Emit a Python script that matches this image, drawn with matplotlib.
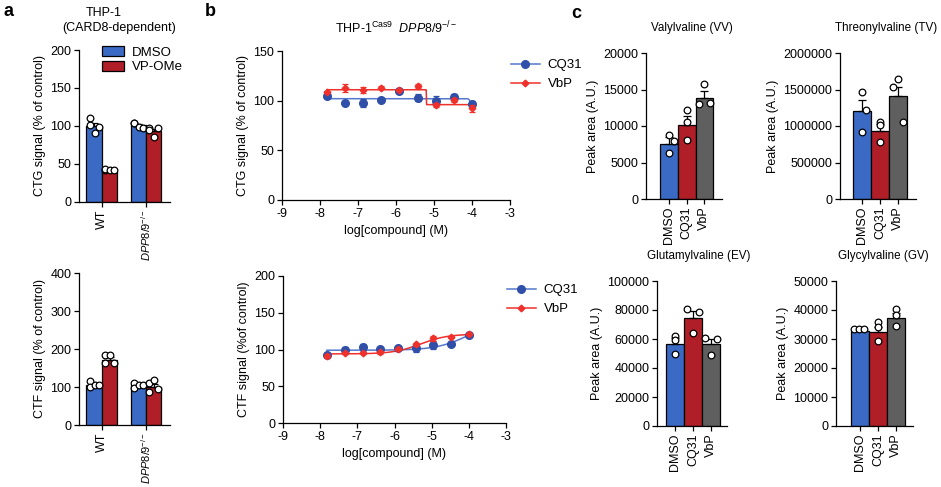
import matplotlib
matplotlib.use('Agg')
import matplotlib.pyplot as plt
import numpy as np
from matplotlib.patches import Patch
from matplotlib.lines import Line2D
from matplotlib.ticker import FuncFormatter, FixedLocator

plt.rcParams['font.family'] = ['Liberation Sans', 'DejaVu Sans']
plt.rcParams['mathtext.fontset'] = 'custom'
plt.rcParams['mathtext.rm'] = 'Liberation Sans'
plt.rcParams['mathtext.it'] = 'Liberation Sans:italic'
plt.rcParams['mathtext.bf'] = 'Liberation Sans:bold'
plt.rcParams['axes.unicode_minus'] = False

# ---------------- data ----------------
a_groups = ['WT', r'$\mathit{DPP8/9}^{-/-}$']
a_treat = ['DMSO', 'VP-OMe']
ctg_means = [[100, 41], [101, 93]]
ctg_sem = [[3.5, 1.0], [1.5, 2.5]]
ctg_points = [[[110, 101, 91, 99], [42, 44, 42, 42]],
              [[104, 104, 99, 97], [97, 95, 86, 97]]]
ctf_means = [[104, 172], [104, 101]]
ctf_sem = [[4, 6], [3, 7]]
ctf_points = [[[117, 101, 105, 105], [184, 164, 184, 164]],
              [[110, 97, 105, 105], [110, 88, 119, 94]]]

log_conc = [-7.82, -7.34, -6.86, -6.39, -5.91, -5.43, -4.96, -4.48, -4.0]
ctg_cq31 = [105, 98, 97.5, 101, 110, 103, 100, 103.5, 97]
ctg_cq31_err = [1.5, 1, 4, 1, 1, 3.5, 4.5, 3, 2.5]
ctg_vbp = [109, 112.5, 110.5, 113, 111, 115, 96, 100.5, 92.5]
ctg_vbp_err = [1, 4, 3, 1.5, 1, 2, 2, 2, 3.5]
ctf_cq31 = [93, 99, 103, 101, 102, 102, 106, 107.5, 120]
ctf_cq31_err = [2, 4, 5, 2, 1.5, 5, 5, 1.5, 1.5]
ctf_vbp = [91, 95, 95, 96, 101, 107, 115, 117, 121]
ctf_vbp_err = [3, 1, 1.5, 2, 1, 2, 3, 1.5, 1.5]
# fit parameters: (start, end, logEC50, hill)
ctg_cq31_fit = (102, 96.5, -4.05, 25)
ctg_vbp_fit = (111, 96, -5.2, 300)
ctf_cq31_fit = (99, 140, -4.0, 1.0)
ctf_vbp_fit = (94, 121, -5.3, 1.2)

c_labels = ['DMSO', 'CQ31', 'VbP']
vv_means = [7600, 10200, 13900]
vv_sem = [850, 1200, 950]
vv_pts = [[8800, 7900, 6300], [12200, 10500, 8100], [15800, 13000, 13100]]
tv_means = [1200000, 935000, 1405000]
tv_sem = [160000, 95000, 130000]
tv_pts = [[1464000, 1222000, 924000], [1052000, 1007000, 778000], [1647000, 1533000, 1048000]]
ev_means = [56500, 74200, 56500]
ev_sem = [3900, 5000, 3700]
ev_pts = [[62200, 59200, 49500], [80400, 78800, 64300], [61000, 59700, 49300]]
gv_means = [32900, 32300, 37100]
gv_sem = [250, 1700, 1700]
gv_pts = [[33300, 33300, 33300], [35900, 34000, 29300], [40200, 38300, 34400]]

# jitter (fraction of bar width) for scatter points
a_jit = [-0.3, -0.3, 0.05, 0.3]
c_jit = [[0.0, 0.25, 0.0], [0.0, 0.0, 0.0], [0.0, -0.3, 0.3]]
ev_jit = [[0.0, 0.0, 0.0], [-0.35, 0.35, 0.0], [-0.35, 0.35, 0.0]]
gv_jit = [[-0.35, -0.05, 0.25], [0.0, 0.0, 0.0], [0.0, 0.0, 0.0]]

# ---------------- style ----------------
BLUE = '#3B6AC4'
RED = '#B01E28'
GREY = '#5F5F5F'
LBLUE = '#2F4FA8'
LINEBLUE = '#5478CC'
LRED = '#F0302B'
FS = 9
TFS = 8.4
LW = 0.9

W, H = 941, 487
fig = plt.figure(figsize=(W / 100, H / 100), dpi=100)


def ax_px(l, r, t, b):
    return fig.add_axes([l / W, 1 - b / H, (r - l) / W, (b - t) / H])


def style(ax):
    for s in ['top', 'right']:
        ax.spines[s].set_visible(False)
    for s in ['left', 'bottom']:
        ax.spines[s].set_linewidth(LW)
    ax.tick_params(width=LW, length=3.5, labelsize=FS, pad=2)


def pts(ax, x, vals, jit, bw):
    for v, j in zip(vals, jit):
        ax.plot(x + j * bw, v, 'o', ms=4.8, mfc='white', mec='black', mew=0.9,
                zorder=5, clip_on=False)


# ---------------- panel a ----------------
def panel_a(ax, means, sems, points, ymax, ystep, ylabel, legend):
    bw = 0.35
    cols = [BLUE, RED]
    for g in range(2):
        for t in range(2):
            x = g + (t - 0.5) * bw
            ax.bar(x, means[g][t], bw, color=cols[t], edgecolor='black', lw=LW, zorder=2)
            ax.errorbar(x, means[g][t], yerr=[[0], [sems[g][t]]], color='black',
                        capsize=3, elinewidth=LW, capthick=LW, zorder=3)
            pts(ax, x, points[g][t], a_jit, bw)
    style(ax)
    ax.set_xlim(-0.52, 1.545)
    ax.set_ylim(0, ymax)
    ax.set_yticks(np.arange(0, ymax + 1, ystep))
    ax.set_xticks([0, 1])
    labs = ax.set_xticklabels(a_groups, rotation=90, fontsize=FS)
    labs[1].set_fontsize(8)
    ax.set_ylabel(ylabel, fontsize=FS, labelpad=3)
    if legend:
        h = [Patch(facecolor=c, edgecolor='black', lw=LW) for c in cols]
        ax.legend(h, a_treat, loc='upper left', bbox_to_anchor=(0.2, 1.06),
                  frameon=False, fontsize=FS + 0.5, handlelength=1.6,
                  handleheight=0.8, handletextpad=0.6, labelspacing=0.15,
                  borderaxespad=0)


axa1 = ax_px(79, 170, 50, 202)
panel_a(axa1, ctg_means, ctg_sem, ctg_points, 200, 50, 'CTG signal (% of control)', True)
axa2 = ax_px(79, 170, 273, 425)
panel_a(axa2, ctf_means, ctf_sem, ctf_points, 400, 100, 'CTF signal (% of control)', False)

fig.text(104 / W, 1 - 13 / H, 'THP-1', ha='center', va='center', fontsize=FS)
fig.text(119 / W, 1 - 28 / H, '(CARD8-dependent)', ha='center', va='center', fontsize=FS)


# ---------------- panel b ----------------
def fitcurve(p, x):
    s, e, ec, h = p
    return s + (e - s) / (1 + 10 ** np.clip((ec - x) * h, -50, 50))


def panel_b(ax, cq, cqe, vb, vbe, cqfit, vbfit, ymax, ystep, ylabel, leg_y):
    xs = np.linspace(log_conc[0], log_conc[-1], 800)
    ax.plot(xs, fitcurve(cqfit, xs), color=LINEBLUE, lw=1.1, zorder=2)
    ax.plot(xs, fitcurve(vbfit, xs), color=LRED, lw=1.1, zorder=2)
    ax.errorbar(log_conc, cq, yerr=cqe, fmt='o', color=LBLUE, ms=5.5, capsize=2.5,
                elinewidth=0.9, capthick=0.9, zorder=3, clip_on=False)
    ax.errorbar(log_conc, vb, yerr=vbe, fmt='D', color=LRED, ms=3.4, capsize=2.5,
                elinewidth=0.9, capthick=0.9, zorder=4, clip_on=False)
    style(ax)
    ax.set_xlim(-9, -3)
    ax.set_ylim(0, ymax)
    ax.set_xticks(np.arange(-9, -2, 1))
    ax.set_yticks(np.arange(0, ymax + 1, ystep))
    ax.set_xlabel('log[compound] (M)', fontsize=FS, labelpad=4)
    ax.set_ylabel(ylabel, fontsize=FS, labelpad=3)
    h = [Line2D([], [], color=LINEBLUE, marker='o', mfc=LBLUE, mec=LBLUE, ms=5.5, lw=1.1),
         Line2D([], [], color=LRED, marker='D', ms=3.4, lw=1.1)]
    ax.legend(h, ['CQ31', 'VbP'], loc='upper left', bbox_to_anchor=(0.98, leg_y),
              frameon=False, fontsize=FS + 0.5, handlelength=2.2,
              handletextpad=0.6, labelspacing=0.5, borderaxespad=0)


axb1 = ax_px(282, 510, 51, 200)
panel_b(axb1, ctg_cq31, ctg_cq31_err, ctg_vbp, ctg_vbp_err, ctg_cq31_fit, ctg_vbp_fit,
        150, 50, 'CTG signal (% of control)', 0.98)
axb2 = ax_px(283, 506, 276, 423)
panel_b(axb2, ctf_cq31, ctf_cq31_err, ctf_vbp, ctf_vbp_err, ctf_cq31_fit, ctf_vbp_fit,
        200, 50, 'CTF signal (%of control)', 0.98)
fig.text(396 / W, 1 - 28 / H, r'THP-1$^{\mathrm{Cas9}}$  $\mathit{DPP8/9}^{-/-}$',
         ha='center', va='center', fontsize=FS)


# ---------------- panel c ----------------
def panel_c(ax, means, sems, points, jit, ymax, ystep, title, xl, xr, tx):
    cols = [BLUE, RED, GREY]
    for i in range(3):
        ax.bar(i, means[i], 1.0, color=cols[i], edgecolor='black', lw=LW, zorder=2)
        ax.errorbar(i, means[i], yerr=[[0], [sems[i]]], color='black', capsize=3,
                    elinewidth=LW, capthick=LW, zorder=3)
        pts(ax, i, points[i], jit[i], 1.0)
    style(ax)
    ax.set_xlim(xl, xr)
    ax.set_ylim(0, ymax)
    ax.yaxis.set_major_locator(FixedLocator(np.arange(0, ymax + 1, ystep)))
    ax.yaxis.set_major_formatter(FuncFormatter(lambda v, p: f'{int(round(v))}'))
    ax.set_xticks([0, 1, 2])
    ax.set_xticklabels(c_labels, rotation=90, fontsize=FS)
    ax.set_ylabel('Peak area (A.U.)', fontsize=FS, labelpad=3)
    ax.text(tx, 1.17, title, transform=ax.transAxes, ha='center', va='center', fontsize=TFS)


axc1 = ax_px(646, 722, 53, 199)
panel_c(axc1, vv_means, vv_sem, vv_pts, c_jit, 20000, 5000, 'Valylvaline (VV)', -1.31, 3.0, 0.6)
axc2 = ax_px(840, 916, 53, 199)
panel_c(axc2, tv_means, tv_sem, tv_pts, c_jit, 2000000, 500000, 'Threonylvaline (TV)', -1.22, 3.0, 0.6)
axc3 = ax_px(657, 727, 281, 426)
panel_c(axc3, ev_means, ev_sem, ev_pts, ev_jit, 100000, 20000, 'Glutamylvaline (EV)', -1.0, 2.89, 0.6)
axc4 = ax_px(836, 913, 281, 426)
panel_c(axc4, gv_means, gv_sem, gv_pts, gv_jit, 50000, 10000, 'Glycylvaline (GV)', -1.33, 2.94, 0.62)

# panel letters
for lx, ly, s in [(4, 11, 'a'), (205, 12, 'b'), (571, 13, 'c')]:
    fig.text(lx / W, 1 - ly / H, s, fontsize=13, fontweight='bold', ha='left', va='center')

fig.savefig('out.png', dpi=100)
